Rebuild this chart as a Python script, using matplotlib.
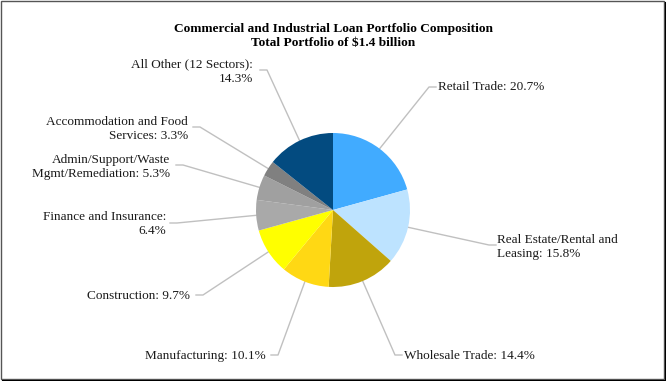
import matplotlib.pyplot as plt
import numpy as np
from matplotlib.patches import Rectangle
from matplotlib.lines import Line2D

plt.rcParams['font.family'] = ['Liberation Serif', 'DejaVu Serif']

# data
sectors = ["Retail Trade", "Real Estate/Rental and\nLeasing", "Wholesale Trade",
           "Manufacturing", "Construction", "Finance and Insurance",
           "Admin/Support/Waste\nMgmt/Remediation", "Accommodation and Food\nServices",
           "All Other (12 Sectors)"]
shares = [20.7, 15.8, 14.4, 10.1, 9.7, 6.4, 5.3, 3.3, 14.3]
seps = [" ", " ", " ", " ", " ", "\n", " ", " ", "\n"]
colors = ["#41abff", "#bde3ff", "#c0a40c", "#ffd814", "#ffff00",
          "#a9a9a9", "#a0a0a0", "#808080", "#034b80"]

# layout (pixels, origin top-left): elbow x, elbow y, text x, text y, side
W, H = 666, 381
cx, cy, R = 333, 210, 77
label_pos = [(429, 87, 438, 87, 'l'),
             (489, 245, 497, 247, 'l'),
             (395, 355, 404, 356, 'l'),
             (278, 355, 266, 356, 'r'),
             (203, 295, 190, 296, 'r'),
             (177, 223, 166, 224, 'r'),
             (183, 165, 170, 167, 'r'),
             (200, 127, 188, 129, 'r'),
             (267, 70, 253, 72, 'r')]

fig = plt.figure(figsize=(W / 100, H / 100), dpi=100)
ax = fig.add_axes([0, 0, 1, 1])

wedges, _ = ax.pie(shares, colors=colors, startangle=90, counterclock=False,
                   radius=R, center=(cx, H - cy), wedgeprops=dict(linewidth=0))
ax.set_xlim(0, W)
ax.set_ylim(0, H)
ax.set_aspect('equal')
ax.axis('off')

lc = "#c0c0c0"
for w, name, pct, sep, (ex, ey, tx, ty, side) in zip(wedges, sectors, shares, seps, label_pos):
    mid = np.deg2rad((w.theta1 + w.theta2) / 2)
    px = cx + R * np.cos(mid)
    py = H - cy + R * np.sin(mid)
    hx = ex + (7 if side == 'l' else -7)
    ax.plot([px, ex, hx], [py, H - ey, H - ey], color=lc, lw=1, zorder=0)
    ax.text(tx, H - ty, f"{name}:{sep}{pct}%", ha='left' if side == 'l' else 'right',
            va='center', multialignment='left' if side == 'l' else 'right',
            fontsize=9.5, linespacing=1.28, color="#1a1a1a")

fig.text(0.5, 1 - 36 / H, "Commercial and Industrial Loan Portfolio Composition\nTotal Portfolio of $1.4 billion",
         ha='center', va='center', fontsize=9.6, fontweight='bold', linespacing=1.25)

# border with shadow
fig.add_artist(Rectangle((0.5 / W, 2.5 / H), 663 / W, 377.5 / H, transform=fig.transFigure,
                         fill=False, edgecolor="#555555", lw=1))
fig.add_artist(Line2D([665.5 / W, 665.5 / W], [0, 1 - 3 / H], transform=fig.transFigure,
                      color="black", lw=1.5))
fig.add_artist(Line2D([3 / W, 1], [0.5 / H, 0.5 / H], transform=fig.transFigure,
                      color="black", lw=1.5))

fig.savefig("out.png", dpi=100)
